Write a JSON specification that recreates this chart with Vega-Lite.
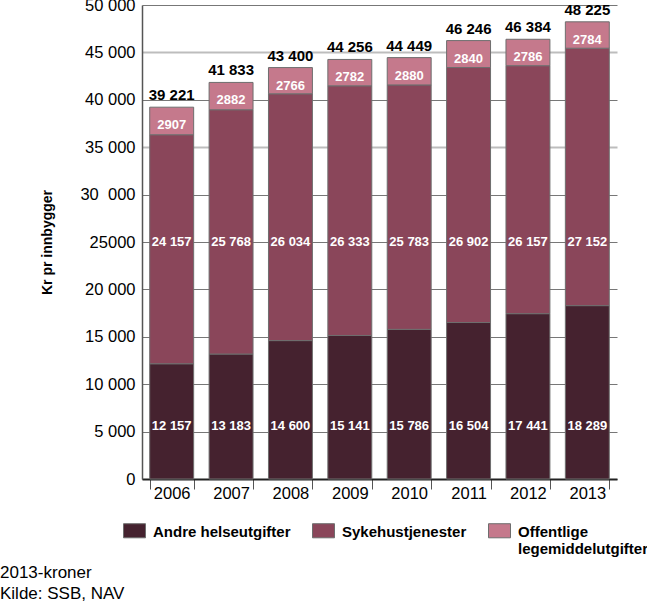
{
  "$schema": "https://vega.github.io/schema/vega-lite/v6.json",
  "width": 475,
  "height": 474,
  "autosize": {"type": "none"},
  "padding": {"left": 142, "top": 5, "right": 30, "bottom": 127},
  "config": {
    "view": {"stroke": null},
    "font": "Liberation Sans",
    "locale": {"number": {"decimal": ",", "thousands": " ", "grouping": [3], "currency": ["", " kr"]}}
  },
  "title": {
    "text": ["2013-kroner", "Kilde: SSB, NAV"],
    "orient": "bottom",
    "anchor": "start",
    "frame": "group",
    "dx": -142,
    "offset": 8,
    "fontSize": 17,
    "fontWeight": "normal",
    "font": "Liberation Sans",
    "color": "#000000",
    "lineHeight": 21
  },
  "data": {
    "values": [
      {"year": "2006", "series": "Andre helseutgifter", "value": 12157},
      {"year": "2006", "series": "Sykehustjenester", "value": 24157},
      {"year": "2006", "series": "Offentlige legemiddelutgifter", "value": 2907},
      {"year": "2007", "series": "Andre helseutgifter", "value": 13183},
      {"year": "2007", "series": "Sykehustjenester", "value": 25768},
      {"year": "2007", "series": "Offentlige legemiddelutgifter", "value": 2882},
      {"year": "2008", "series": "Andre helseutgifter", "value": 14600},
      {"year": "2008", "series": "Sykehustjenester", "value": 26034},
      {"year": "2008", "series": "Offentlige legemiddelutgifter", "value": 2766},
      {"year": "2009", "series": "Andre helseutgifter", "value": 15141},
      {"year": "2009", "series": "Sykehustjenester", "value": 26333},
      {"year": "2009", "series": "Offentlige legemiddelutgifter", "value": 2782},
      {"year": "2010", "series": "Andre helseutgifter", "value": 15786},
      {"year": "2010", "series": "Sykehustjenester", "value": 25783},
      {"year": "2010", "series": "Offentlige legemiddelutgifter", "value": 2880},
      {"year": "2011", "series": "Andre helseutgifter", "value": 16504},
      {"year": "2011", "series": "Sykehustjenester", "value": 26902},
      {"year": "2011", "series": "Offentlige legemiddelutgifter", "value": 2840},
      {"year": "2012", "series": "Andre helseutgifter", "value": 17441},
      {"year": "2012", "series": "Sykehustjenester", "value": 26157},
      {"year": "2012", "series": "Offentlige legemiddelutgifter", "value": 2786},
      {"year": "2013", "series": "Andre helseutgifter", "value": 18289},
      {"year": "2013", "series": "Sykehustjenester", "value": 27152},
      {"year": "2013", "series": "Offentlige legemiddelutgifter", "value": 2784}
    ]
  },
  "transform": [
    {"calculate": "indexof(['Andre helseutgifter', 'Sykehustjenester', 'Offentlige legemiddelutgifter'], datum.series)", "as": "rank"}
  ],
  "encoding": {
    "x": {
      "field": "year",
      "type": "ordinal",
      "scale": {"paddingInner": 0.26, "paddingOuter": 0.13},
      "axis": {
        "title": null,
        "labelAngle": 0,
        "labelFontSize": 16.5,
        "labelColor": "#000000",
        "labelPadding": -4,
        "tickBand": "extent",
        "tickSize": 10,
        "tickColor": "#555555",
        "tickWidth": 1,
        "domainColor": "#222222",
        "domainWidth": 2
      }
    }
  },
  "layer": [
    {
      "mark": {"type": "bar", "stroke": "#6e6e6e", "strokeWidth": 1},
      "encoding": {
        "y": {
          "field": "value",
          "type": "quantitative",
          "stack": "zero",
          "scale": {"domain": [0, 50000]},
          "axis": {
            "title": "Kr pr innbygger",
            "titleFontSize": 14,
            "titleFontWeight": "bold",
            "titleColor": "#000000",
            "titlePadding": 25,
            "values": [0, 5000, 10000, 15000, 20000, 25000, 30000, 35000, 40000, 45000, 50000],
            "labelExpr": "datum.value == 30000 ? '30\u00a0\u00a0000' : datum.value == 25000 ? '25000' : format(datum.value, ',d')",
            "labelFontSize": 16.5,
            "labelColor": "#000000",
            "labelPadding": 7,
            "ticks": false,
            "domainColor": "#555555",
            "domainWidth": 1.5,
            "gridColor": {"condition": {"test": "datum.value == 45000 || datum.value == 35000", "value": "#bdbdbd"}, "value": "#777777"},
            "gridWidth": {"condition": {"test": "datum.value == 45000 || datum.value == 35000", "value": 2}, "value": 1}
          }
        },
        "order": {"field": "rank", "type": "quantitative"},
        "color": {
          "field": "series",
          "type": "nominal",
          "sort": ["Andre helseutgifter", "Sykehustjenester", "Offentlige legemiddelutgifter"],
          "scale": {
            "domain": ["Andre helseutgifter", "Sykehustjenester", "Offentlige legemiddelutgifter"],
            "range": ["#45222f", "#8a465a", "#c5798c"]
          },
          "legend": {
            "title": null,
            "orient": "none",
            "direction": "horizontal",
            "columns": 3,
            "legendX": -19,
            "legendY": 515,
            "symbolType": "M-1,-0.73H1V0.55H-1Z",
            "symbolSize": 484,
            "symbolStrokeColor": "#6e6e6e",
            "symbolStrokeWidth": 1,
            "symbolOpacity": 1,
            "labelFontSize": 15,
            "labelFontWeight": "bold",
            "labelColor": "#000000",
            "labelOffset": 7,
            "labelBaseline": "middle",
            "columnPadding": 19,
            "labelLimit": 300,
            "labelExpr": "datum.label == 'Offentlige legemiddelutgifter' ? ['Offentlige', 'legemiddelutgifter'] : [datum.label, '']"
          }
        }
      }
    },
    {
      "transform": [{"filter": "datum.series == 'Andre helseutgifter'"}],
      "mark": {"type": "text", "color": "#ffffff", "fontWeight": "bold", "fontSize": 13, "baseline": "middle"},
      "encoding": {
        "y": {"datum": 5600, "type": "quantitative"},
        "text": {"field": "value", "type": "quantitative", "format": ",d"}
      }
    },
    {
      "transform": [{"filter": "datum.series == 'Sykehustjenester'"}],
      "mark": {"type": "text", "color": "#ffffff", "fontWeight": "bold", "fontSize": 13, "baseline": "middle"},
      "encoding": {
        "y": {"datum": 24950, "type": "quantitative"},
        "text": {"field": "value", "type": "quantitative", "format": ",d"}
      }
    },
    {
      "transform": [
        {"joinaggregate": [{"op": "sum", "field": "value", "as": "total"}], "groupby": ["year"]},
        {"filter": "datum.series == 'Offentlige legemiddelutgifter'"}
      ],
      "mark": {"type": "text", "color": "#ffffff", "fontWeight": "bold", "fontSize": 13, "baseline": "middle", "dy": 18},
      "encoding": {
        "y": {"field": "total", "type": "quantitative"},
        "text": {"field": "value", "type": "quantitative", "format": "d"}
      }
    },
    {
      "transform": [
        {"aggregate": [{"op": "sum", "field": "value", "as": "total"}], "groupby": ["year"]}
      ],
      "mark": {"type": "text", "color": "#000000", "fontWeight": "bold", "fontSize": 15, "baseline": "alphabetic", "dy": -7},
      "encoding": {
        "y": {"field": "total", "type": "quantitative"},
        "text": {"field": "total", "type": "quantitative", "format": ",d"}
      }
    }
  ]
}
